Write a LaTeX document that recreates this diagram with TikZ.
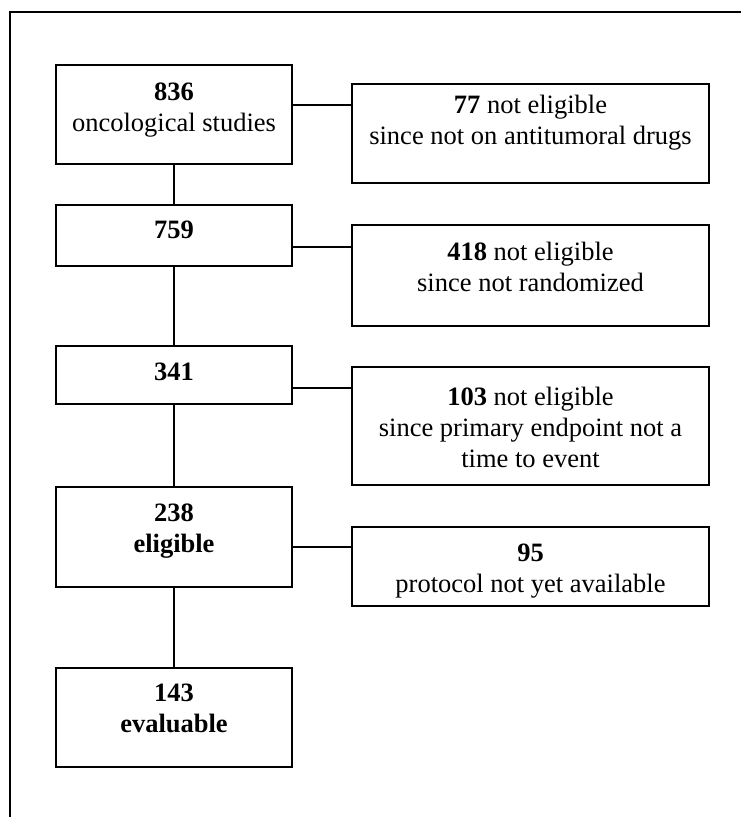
\documentclass[tikz,border=0pt]{standalone}
\usepackage{fontspec}
\setmainfont{Liberation Serif}
\begin{document}
\begin{tikzpicture}[x=1pt,y=-1pt,
  boxst/.style={draw, line width=1.7pt, inner sep=0pt},
  lbox/.style={boxst, minimum width=236pt},
  rbox/.style={boxst, minimum width=357pt},
  lbl/.style={font=\fontsize{26.5}{31}\selectfont, align=center, inner sep=0pt, anchor=north},
  conn/.style={line width=1.7pt}]
\useasboundingbox (0,0) rectangle (741,817);
% outer frame (cropped)
\coordinate (fa) at (10,817);
\coordinate (fb) at (10,12);
\coordinate (fc) at (741,12);
\draw[line width=1.7pt] (fa) -- (fb) -- (fc);
% left column
\node[lbox, minimum height=99pt] (b1) at (174,114.5) {};
\node[lbox, minimum height=61pt] (b2) at (174,235.5) {};
\node[lbox, minimum height=58pt] (b3) at (174,375) {};
\node[lbox, minimum height=100pt] (b4) at (174,537) {};
\node[lbox, minimum height=99pt] (b5) at (174,717.5) {};
% right column
\node[rbox, minimum height=99pt] (r1) at (530.5,133.5) {};
\node[rbox, minimum height=101pt] (r2) at (530.5,275.5) {};
\node[rbox, minimum height=118pt] (r3) at (530.5,426) {};
\node[rbox, minimum height=79pt] (r4) at (530.5,566.5) {};
% labels
\node[lbl] (t1) at ([yshift=-19pt]b1.north) {\textbf{836}\\oncological studies};
\node[lbl] (t2) at ([yshift=-17pt]b2.north) {\textbf{759}};
\node[lbl] (t3) at ([yshift=-18pt]b3.north) {\textbf{341}};
\node[lbl] (t4) at ([yshift=-18pt]b4.north) {\textbf{238}\\\textbf{eligible}};
\node[lbl] (t5) at ([yshift=-17pt]b5.north) {\textbf{143}\\\textbf{evaluable}};
\node[lbl] (s1) at ([yshift=-12pt]r1.north) {\textbf{77} not eligible\\since not on antitumoral drugs};
\node[lbl] (s2) at ([yshift=-18pt]r2.north) {\textbf{418} not eligible\\since not randomized};
\node[lbl] (s3) at ([yshift=-21pt]r3.north) {\textbf{103} not eligible\\since primary endpoint not a\\time to event};
\node[lbl] (s4) at ([yshift=-18pt]r4.north) {\textbf{95}\\protocol not yet available};
% vertical connectors
\draw[conn] (b1.south) -- (b2.north);
\draw[conn] (b2.south) -- (b3.north);
\draw[conn] (b3.south) -- (b4.north);
\draw[conn] (b4.south) -- (b5.north);
% horizontal connectors
\draw[conn] ([yshift=9.5pt]b1.east) coordinate (h1) -- (h1 -| r1.west);
\draw[conn] ([yshift=-11.5pt]b2.east) coordinate (h2) -- (h2 -| r2.west);
\draw[conn] ([yshift=-13pt]b3.east) coordinate (h3) -- (h3 -| r3.west);
\draw[conn] ([yshift=-10pt]b4.east) coordinate (h4) -- (h4 -| r4.west);
\end{tikzpicture}
\end{document}
